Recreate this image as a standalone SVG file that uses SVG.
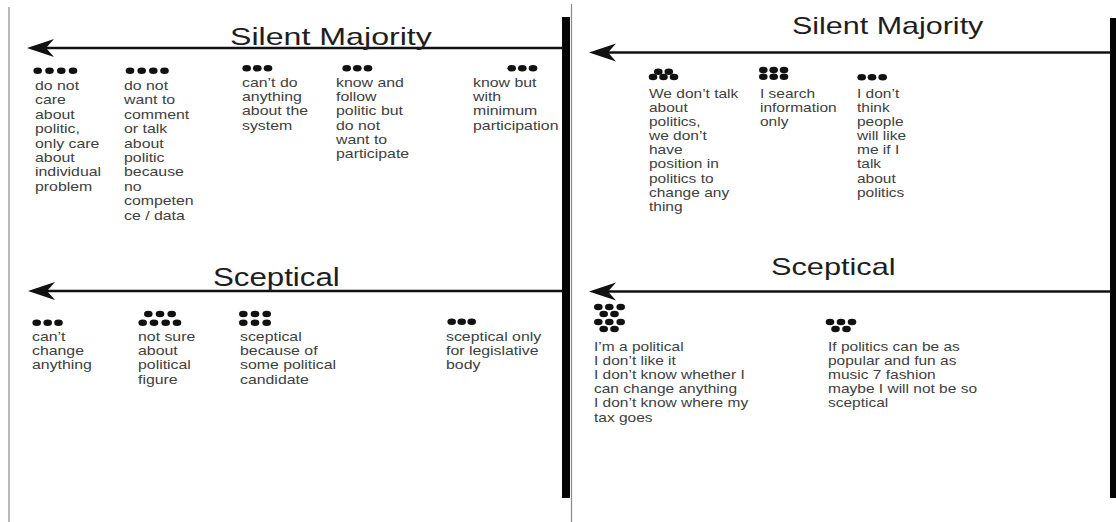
<svg xmlns="http://www.w3.org/2000/svg" width="1116" height="522" viewBox="0 0 1116 522">
  <style>
    .title { font-family: "Liberation Sans", Arial, sans-serif; font-size: 24px; fill: #1e1e1e; }
    .body { font-family: "Liberation Sans", Arial, sans-serif; font-size: 12.5px; fill: #404040; }
    .dot { fill: #111; }
    .frame { stroke: #8a8a8a; stroke-width: 1.2; fill: none; }
    .bar { fill: #050505; }
    .axis { stroke: #111; stroke-width: 2.6; fill: none; marker-end: url(#head); }
  </style>
  <defs>
    <marker id="head" markerUnits="userSpaceOnUse" markerWidth="30" markerHeight="22" viewBox="0 -11 30 22" refX="8" refY="0" orient="auto">
      <path d="M27,0 L0,-9 L8,0 L0,9 Z" fill="#111"/>
    </marker>
    <ellipse id="d" class="dot" cx="0" cy="0" rx="4.3" ry="3.3"/>
  </defs>

  <rect width="1116" height="522" fill="#ffffff"/>

  <!-- panel frames and divider bars -->
  <line class="frame" x1="9" y1="7" x2="9" y2="522"/>
  <line class="frame" x1="571.5" y1="4" x2="571.5" y2="522"/>
  <rect class="bar" x="562" y="17" width="8" height="481"/>
  <rect class="bar" x="1110" y="18" width="6" height="480"/>

  <!-- axes -->
  <g id="connectors">
    <line class="axis" x1="563" y1="48" x2="46" y2="48"/>
    <line class="axis" x1="563" y1="291" x2="47" y2="291"/>
    <line class="axis" x1="1111" y1="52.5" x2="608" y2="52.5"/>
    <line class="axis" x1="1111" y1="291.5" x2="608" y2="291.5"/>
  </g>

  <!-- titles -->
  <g id="title-left-silent"><text class="title" transform="translate(230,44.5) scale(1.34,1)">Silent Majority</text></g>
  <g id="title-left-sceptical"><text class="title" style="font-size:25px" transform="translate(213,286) scale(1.25,1)">Sceptical</text></g>
  <g id="title-right-silent"><text class="title" transform="translate(792,33.5) scale(1.27,1)">Silent Majority</text></g>
  <g id="title-right-sceptical"><text class="title" transform="translate(771,274.5) scale(1.28,1)">Sceptical</text></g>

  <!-- left panel: silent majority -->
  <g id="ls-1">
    <use href="#d" x="37.7" y="70.7"/><use href="#d" x="49.5" y="70.7"/><use href="#d" x="61.3" y="70.7"/><use href="#d" x="73" y="70.7"/>
    <text class="body" transform="translate(35,90) scale(1.27,1)">
      <tspan x="0" y="0">do not</tspan><tspan x="0" dy="14.4">care</tspan><tspan x="0" dy="14.4">about</tspan><tspan x="0" dy="14.4">politic,</tspan><tspan x="0" dy="14.4">only care</tspan><tspan x="0" dy="14.4">about</tspan><tspan x="0" dy="14.4">individual</tspan><tspan x="0" dy="14.4">problem</tspan>
    </text>
  </g>
  <g id="ls-2">
    <use href="#d" x="130" y="70.7"/><use href="#d" x="141.7" y="70.7"/><use href="#d" x="153.3" y="70.7"/><use href="#d" x="164.5" y="70.7"/>
    <text class="body" transform="translate(124,90) scale(1.27,1)">
      <tspan x="0" y="0">do not</tspan><tspan x="0" dy="14.4">want to</tspan><tspan x="0" dy="14.4">comment</tspan><tspan x="0" dy="14.4">or talk</tspan><tspan x="0" dy="14.4">about</tspan><tspan x="0" dy="14.4">politic</tspan><tspan x="0" dy="14.4">because</tspan><tspan x="0" dy="14.4">no</tspan><tspan x="0" dy="14.4">competen</tspan><tspan x="0" dy="14.4">ce / data</tspan>
    </text>
  </g>
  <g id="ls-3">
    <use href="#d" x="246.7" y="68.3"/><use href="#d" x="257.3" y="68.3"/><use href="#d" x="268" y="68.3"/>
    <text class="body" transform="translate(242,87) scale(1.27,1)">
      <tspan x="0" y="0">can’t do</tspan><tspan x="0" dy="14.2">anything</tspan><tspan x="0" dy="14.2">about the</tspan><tspan x="0" dy="14.2">system</tspan>
    </text>
  </g>
  <g id="ls-4">
    <use href="#d" x="346.7" y="68.3"/><use href="#d" x="357.3" y="68.3"/><use href="#d" x="368" y="68.3"/>
    <text class="body" transform="translate(336,87) scale(1.27,1)">
      <tspan x="0" y="0">know and</tspan><tspan x="0" dy="14.2">follow</tspan><tspan x="0" dy="14.2">politic but</tspan><tspan x="0" dy="14.2">do not</tspan><tspan x="0" dy="14.2">want to</tspan><tspan x="0" dy="14.2">participate</tspan>
    </text>
  </g>
  <g id="ls-5">
    <use href="#d" x="511.7" y="68.3"/><use href="#d" x="522.3" y="68.3"/><use href="#d" x="533" y="68.3"/>
    <text class="body" transform="translate(473,87) scale(1.27,1)">
      <tspan x="0" y="0">know but</tspan><tspan x="0" dy="14.2">with</tspan><tspan x="0" dy="14.2">minimum</tspan><tspan x="0" dy="14.2">participation</tspan>
    </text>
  </g>

  <!-- left panel: sceptical -->
  <g id="lc-1">
    <use href="#d" x="36.7" y="322.7"/><use href="#d" x="47.7" y="322.7"/><use href="#d" x="58.5" y="322.7"/>
    <text class="body" transform="translate(32,341) scale(1.27,1)">
      <tspan x="0" y="0">can’t</tspan><tspan x="0" dy="14.2">change</tspan><tspan x="0" dy="14.2">anything</tspan>
    </text>
  </g>
  <g id="lc-2">
    <use href="#d" x="148.3" y="314"/><use href="#d" x="160" y="314"/><use href="#d" x="171.7" y="314"/>
    <use href="#d" x="142.7" y="322.7"/><use href="#d" x="154" y="322.7"/><use href="#d" x="165.7" y="322.7"/><use href="#d" x="177" y="322.7"/>
    <text class="body" transform="translate(138,341) scale(1.27,1)">
      <tspan x="0" y="0">not sure</tspan><tspan x="0" dy="14.2">about</tspan><tspan x="0" dy="14.2">political</tspan><tspan x="0" dy="14.2">figure</tspan>
    </text>
  </g>
  <g id="lc-3">
    <use href="#d" x="243.3" y="314"/><use href="#d" x="255" y="314"/><use href="#d" x="266.7" y="314"/>
    <use href="#d" x="243.3" y="322.7"/><use href="#d" x="255" y="322.7"/><use href="#d" x="266.7" y="322.7"/>
    <text class="body" transform="translate(240,341) scale(1.27,1)">
      <tspan x="0" y="0">sceptical</tspan><tspan x="0" dy="14.2">because of</tspan><tspan x="0" dy="14.2">some political</tspan><tspan x="0" dy="14.2">candidate</tspan>
    </text>
  </g>
  <g id="lc-4">
    <use href="#d" x="451.7" y="321.7"/><use href="#d" x="461.7" y="321.7"/><use href="#d" x="471.7" y="321.7"/>
    <text class="body" transform="translate(446,341) scale(1.27,1)">
      <tspan x="0" y="0">sceptical only</tspan><tspan x="0" dy="14.2">for legislative</tspan><tspan x="0" dy="14.2">body</tspan>
    </text>
  </g>

  <!-- right panel: silent majority -->
  <g id="rs-1">
    <use href="#d" x="658.3" y="71.7"/><use href="#d" x="668.8" y="71.7"/>
    <use href="#d" x="653" y="77"/><use href="#d" x="663.5" y="77"/><use href="#d" x="674" y="77"/>
    <text class="body" transform="translate(649,97.5) scale(1.24,1)">
      <tspan x="0" y="0">We don’t talk</tspan><tspan x="0" dy="14.2">about</tspan><tspan x="0" dy="14.2">politics,</tspan><tspan x="0" dy="14.2">we don’t</tspan><tspan x="0" dy="14.2">have</tspan><tspan x="0" dy="14.2">position in</tspan><tspan x="0" dy="14.2">politics to</tspan><tspan x="0" dy="14.2">change any</tspan><tspan x="0" dy="14.2">thing</tspan>
    </text>
  </g>
  <g id="rs-2">
    <use href="#d" x="763.3" y="70"/><use href="#d" x="773.7" y="70"/><use href="#d" x="784" y="70"/>
    <use href="#d" x="763.3" y="76.7"/><use href="#d" x="773.7" y="76.7"/><use href="#d" x="784" y="76.7"/>
    <text class="body" transform="translate(760,97.5) scale(1.24,1)">
      <tspan x="0" y="0">I search</tspan><tspan x="0" dy="14.2">information</tspan><tspan x="0" dy="14.2">only</tspan>
    </text>
  </g>
  <g id="rs-3">
    <use href="#d" x="861.7" y="77.3"/><use href="#d" x="872" y="77.3"/><use href="#d" x="882.7" y="77.3"/>
    <text class="body" transform="translate(857,97.5) scale(1.24,1)">
      <tspan x="0" y="0">I don’t</tspan><tspan x="0" dy="14.2">think</tspan><tspan x="0" dy="14.2">people</tspan><tspan x="0" dy="14.2">will like</tspan><tspan x="0" dy="14.2">me if I</tspan><tspan x="0" dy="14.2">talk</tspan><tspan x="0" dy="14.2">about</tspan><tspan x="0" dy="14.2">politics</tspan>
    </text>
  </g>

  <!-- right panel: sceptical -->
  <g id="rc-1">
    <use href="#d" x="598.3" y="307"/><use href="#d" x="609.3" y="307"/><use href="#d" x="620.7" y="307"/>
    <use href="#d" x="603.7" y="314"/><use href="#d" x="614.5" y="314"/>
    <use href="#d" x="598.3" y="322"/><use href="#d" x="609.3" y="322"/><use href="#d" x="620.7" y="322"/>
    <use href="#d" x="603.7" y="329"/><use href="#d" x="614.5" y="329"/>
    <text class="body" transform="translate(594,350.7) scale(1.24,1)">
      <tspan x="0" y="0">I’m a political</tspan><tspan x="0" dy="14.2">I don’t like it</tspan><tspan x="0" dy="14.2">I don’t know whether I</tspan><tspan x="0" dy="14.2">can change anything</tspan><tspan x="0" dy="14.2">I don’t know where my</tspan><tspan x="0" dy="14.2">tax goes</tspan>
    </text>
  </g>
  <g id="rc-2">
    <use href="#d" x="830" y="322"/><use href="#d" x="841" y="322"/><use href="#d" x="852" y="322"/>
    <use href="#d" x="835.5" y="329"/><use href="#d" x="846.5" y="329"/>
    <text class="body" transform="translate(828,350.7) scale(1.24,1)">
      <tspan x="0" y="0">If politics can be as</tspan><tspan x="0" dy="14.2">popular and fun as</tspan><tspan x="0" dy="14.2">music 7 fashion</tspan><tspan x="0" dy="14.2">maybe I will not be so</tspan><tspan x="0" dy="14.2">sceptical</tspan>
    </text>
  </g>
</svg>
